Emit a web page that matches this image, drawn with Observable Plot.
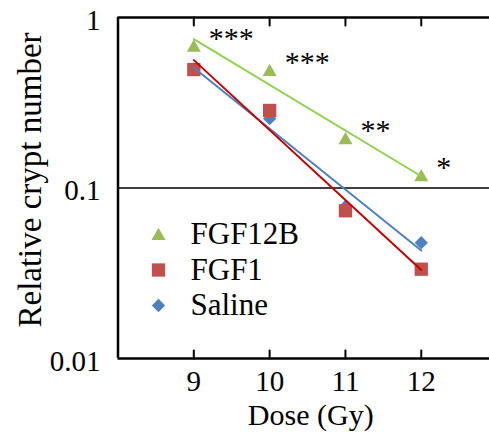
<!DOCTYPE html>
<html><head><meta charset="utf-8">
<script src="https://cdn.jsdelivr.net/npm/d3@7"></script>
<script src="https://cdn.jsdelivr.net/npm/@observablehq/plot@0.6"></script>
<style>html,body{margin:0;padding:0;background:#fff;overflow:hidden} svg text{font-family:"Liberation Serif","Times New Roman",serif}</style>
</head><body><div id="chart"></div>
<script>
const doses = [9, 10, 11, 12];
const series = ["FGF12B", "FGF1", "Saline"];
const fgf12b = [0.68, 0.49, 0.195, 0.118];
const fgf1 = [0.495, 0.285, 0.0735, 0.0334];
const saline = [0.50, 0.255, 0.078, 0.0478];
const stars = ["***", "***", "**", "*"];
const yTicks = [0.01, 0.1, 1];
const yTickLabels = ["0.01", "0.1", "1"];
const xTicks = [9, 10, 11, 12];
const markerFill = ["#9BBB59", "#C0504D", "#4F81BD"];
const lineColor = ["#92D050", "#C00000", "#4F81BD"];

const valuesBySeries = [fgf12b, fgf1, saline];
const font = "Liberation Serif";

const triangle = {draw(ctx, size) { const r = Math.sqrt(size / Math.PI); ctx.moveTo(0, -0.95 * r); ctx.lineTo(r, 0.8 * r); ctx.lineTo(-r, 0.8 * r); ctx.closePath(); }};
const square = {draw(ctx, size) { const r = Math.sqrt(size / Math.PI) * 0.95; ctx.rect(-r, -r, 2 * r, 2 * r); }};
const diamond = {draw(ctx, size) { const r = Math.sqrt(size / Math.PI) * 0.95; ctx.moveTo(0, -r); ctx.lineTo(r, 0); ctx.lineTo(0, r); ctx.lineTo(-r, 0); ctx.closePath(); }};
const symbols = [triangle, square, diamond];

function fit(vals) {
  const ly = vals.map(Math.log10);
  const mx = d3.mean(doses), my = d3.mean(ly);
  const b = d3.sum(doses, (x, i) => (x - mx) * (ly[i] - my)) / d3.sum(doses, x => (x - mx) ** 2);
  return [doses[0], doses[doses.length - 1]].map(x => ({x, y: 10 ** (my + b * (x - mx))}));
}

const tickShape = {draw(ctx, l) { ctx.moveTo(0, 0); ctx.lineTo(0, -l); }};

const pointMarks = [2, 1, 0].map(i => Plot.dot(doses.map((d, j) => ({x: d, y: valuesBySeries[i][j]})), {
  x: "x", y: "y", r: 7, symbol: symbols[i], fill: markerFill[i], stroke: "none"
}));
const lineMarks = [2, 1, 0].map(i => Plot.line(fit(valuesBySeries[i]), {
  x: "x", y: "y", stroke: lineColor[i], strokeWidth: 2
}));
const legendMarks = series.flatMap((s, i) => [
  Plot.dot([s], {frameAnchor: "top-left", dx: 40.5, dy: 217 + i * 35.5, r: 7, symbol: symbols[i], fill: markerFill[i]}),
  Plot.text([s], {frameAnchor: "top-left", dx: 72.5, dy: 217 + i * 35.5, text: d => d, textAnchor: "start", lineAnchor: "middle", fontSize: 31, fontFamily: font, fill: "black"})
]);

const chart = Plot.plot({
  width: 489, height: 432,
  marginLeft: 117.5, marginRight: 0, marginTop: 17, marginBottom: 74,
  style: {fontFamily: font, fontSize: "30px", color: "black", background: "white"},
  x: {domain: [8, 12.9], label: null},
  y: {type: "log", domain: [0.01, 1], label: null},
  marks: [
    Plot.ruleY([0.1], {stroke: "black", strokeWidth: 1.5}),
    ...pointMarks,
    ...lineMarks,
    Plot.text(doses.map((d, j) => ({x: d, y: fgf12b[j], s: stars[j]})), {x: "x", y: "y", text: "s", dx: 15, dy: -8, textAnchor: "start", fontSize: 30, fontFamily: font, fill: "black"}),
    ...legendMarks,
    Plot.ruleY([1], {stroke: "black", strokeWidth: 2.5}),
    Plot.ruleY([0.01], {stroke: "black", strokeWidth: 2.5}),
    Plot.ruleX([8], {stroke: "black", strokeWidth: 2.5}),
    Plot.vector(xTicks, {x: d => d, frameAnchor: "bottom", length: 8, anchor: "start", shape: tickShape, stroke: "black", strokeWidth: 2}),
    Plot.vector(xTicks, {x: d => d, frameAnchor: "top", length: 8, anchor: "start", rotate: 180, shape: tickShape, stroke: "black", strokeWidth: 2}),
    Plot.axisX({ticks: xTicks, tickSize: 0, tickPadding: 12, tickFormat: d => String(d), fontSize: 29, fontFamily: font}),
    Plot.axisY({ticks: yTicks, tickSize: 0, tickPadding: 17.5, tickFormat: d => yTickLabels[yTicks.indexOf(d)], dy: 3, fontSize: 29, fontFamily: font}),
    Plot.text(["Relative crypt number"], {frameAnchor: "left", dx: -87.5, dy: -8, rotate: -90, textAnchor: "middle", lineAnchor: "middle", text: d => d, fontSize: 33, fontFamily: font, fill: "black"}),
    Plot.text(["Dose (Gy)"], {frameAnchor: "bottom", dx: 7, dy: 57, textAnchor: "middle", lineAnchor: "middle", text: d => d, fontSize: 30, fontFamily: font, fill: "black"})
  ]
});
document.getElementById("chart").appendChild(chart);
</script></body></html>
